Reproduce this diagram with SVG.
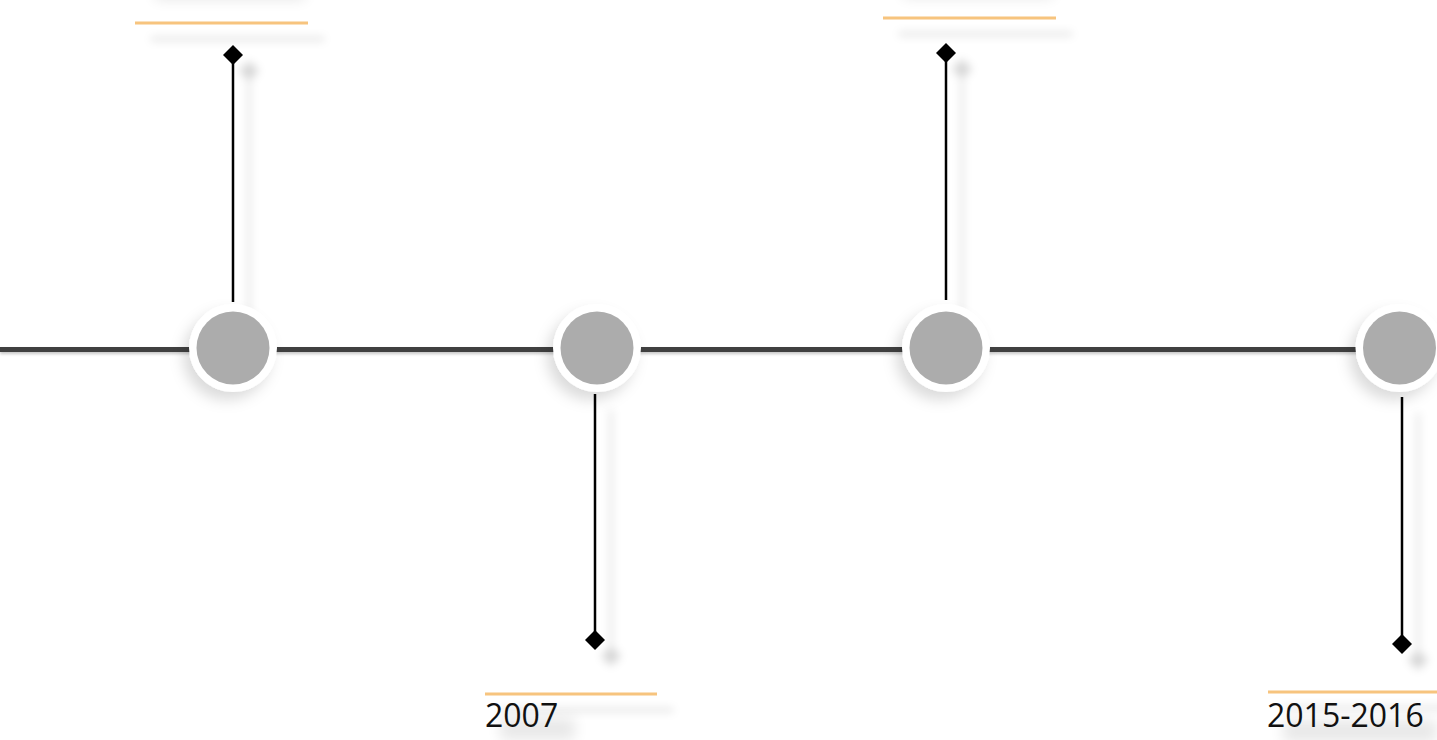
<svg xmlns="http://www.w3.org/2000/svg" width="1437" height="740" viewBox="0 0 1437 740">
  <defs>
    <filter id="sh" filterUnits="userSpaceOnUse" x="-100" y="-100" width="1637" height="940">
      <feGaussianBlur in="SourceAlpha" stdDeviation="4"/>
      <feOffset dx="16" dy="16" result="b"/>
      <feFlood flood-color="#000" flood-opacity="0.16"/>
      <feComposite in2="b" operator="in" result="s"/>
      <feMerge><feMergeNode in="s"/><feMergeNode in="SourceGraphic"/></feMerge>
    </filter>
    <filter id="csh" x="-50%" y="-50%" width="200%" height="200%">
      <feGaussianBlur in="SourceAlpha" stdDeviation="7"/>
      <feOffset dx="-6" dy="8" result="b"/>
      <feFlood flood-color="#000" flood-opacity="0.14"/>
      <feComposite in2="b" operator="in" result="s"/>
      <feMerge><feMergeNode in="s"/><feMergeNode in="SourceGraphic"/></feMerge>
    </filter>
    <filter id="lsh" filterUnits="userSpaceOnUse" x="-100" y="300" width="1637" height="100">
      <feGaussianBlur in="SourceAlpha" stdDeviation="1.5"/>
      <feOffset dx="0" dy="2" result="b"/>
      <feFlood flood-color="#000" flood-opacity="0.22"/>
      <feComposite in2="b" operator="in" result="s"/>
      <feMerge><feMergeNode in="s"/><feMergeNode in="SourceGraphic"/></feMerge>
    </filter>
    <filter id="blur" filterUnits="userSpaceOnUse" x="-100" y="-100" width="1637" height="940">
      <feGaussianBlur stdDeviation="7"/>
    </filter>
  </defs>
  <style>
    .main{stroke:#3f3f3f;stroke-width:5;fill:none}
    .conn{stroke:#000;stroke-width:2.5;fill:none}
    .ring{fill:#fff}
    .dot{fill:#acacac}
    .acc{stroke:#f7c47e;stroke-width:3;fill:none}
    .lbl{font-family:"Open Sans","Noto Sans",sans-serif;font-size:32px;fill:#111}
    .diam{fill:#000}
    .ts{fill:#000;opacity:0.09}
  </style>
  <rect width="1437" height="740" fill="#fff"/>

  <g id="connectors">
    <line class="main" x1="0" y1="349.5" x2="1437" y2="349.5" filter="url(#lsh)"/>
    <g filter="url(#sh)">
      <line class="conn" x1="233" y1="55" x2="233" y2="302"/>
      <path class="diam" d="M233,45 L243,55 L233,65 L223,55 Z"/>
      <line class="conn" x1="595" y1="394" x2="595" y2="640"/>
      <path class="diam" d="M595,630 L605,640 L595,650 L585,640 Z"/>
      <line class="conn" x1="946" y1="53" x2="946" y2="300"/>
      <path class="diam" d="M946,43 L956,53 L946,63 L936,53 Z"/>
      <line class="conn" x1="1402" y1="397" x2="1402" y2="644"/>
      <path class="diam" d="M1402,634 L1412,644 L1402,654 L1392,644 Z"/>
    </g>
  </g>

  <g id="node1" filter="url(#csh)">
    <circle class="ring" cx="233" cy="348" r="44"/>
    <circle class="dot" cx="233" cy="348" r="36.5"/>
  </g>
  <g id="node2" filter="url(#csh)">
    <circle class="ring" cx="597" cy="348" r="44"/>
    <circle class="dot" cx="597" cy="348" r="36.5"/>
  </g>
  <g id="node3" filter="url(#csh)">
    <circle class="ring" cx="946" cy="348" r="44"/>
    <circle class="dot" cx="946" cy="348" r="36.5"/>
  </g>
  <g id="node4" filter="url(#csh)">
    <circle class="ring" cx="1399.5" cy="348" r="44"/>
    <circle class="dot" cx="1399.5" cy="348" r="36.5"/>
  </g>

  <g id="label1">
    <rect class="ts" x="155" y="-16" width="150" height="16" filter="url(#blur)"/>
    <line class="acc" x1="135" y1="23" x2="308" y2="23" filter="url(#sh)"/>
  </g>
  <g id="label2">
    <rect class="ts" x="500" y="718" width="75" height="22" filter="url(#blur)"/>
    <line class="acc" x1="485" y1="694" x2="657" y2="694" filter="url(#sh)"/>
    <text class="lbl" x="485" y="727">2007</text>
  </g>
  <g id="label3">
    <rect class="ts" x="903" y="-18" width="150" height="16" filter="url(#blur)"/>
    <line class="acc" x1="883" y1="18" x2="1056" y2="18" filter="url(#sh)"/>
  </g>
  <g id="label4">
    <rect class="ts" x="1283" y="720" width="154" height="22" filter="url(#blur)"/>
    <line class="acc" x1="1268" y1="692" x2="1437" y2="692" filter="url(#sh)"/>
    <text class="lbl" x="1267" y="727">2015-2016</text>
  </g>
</svg>
